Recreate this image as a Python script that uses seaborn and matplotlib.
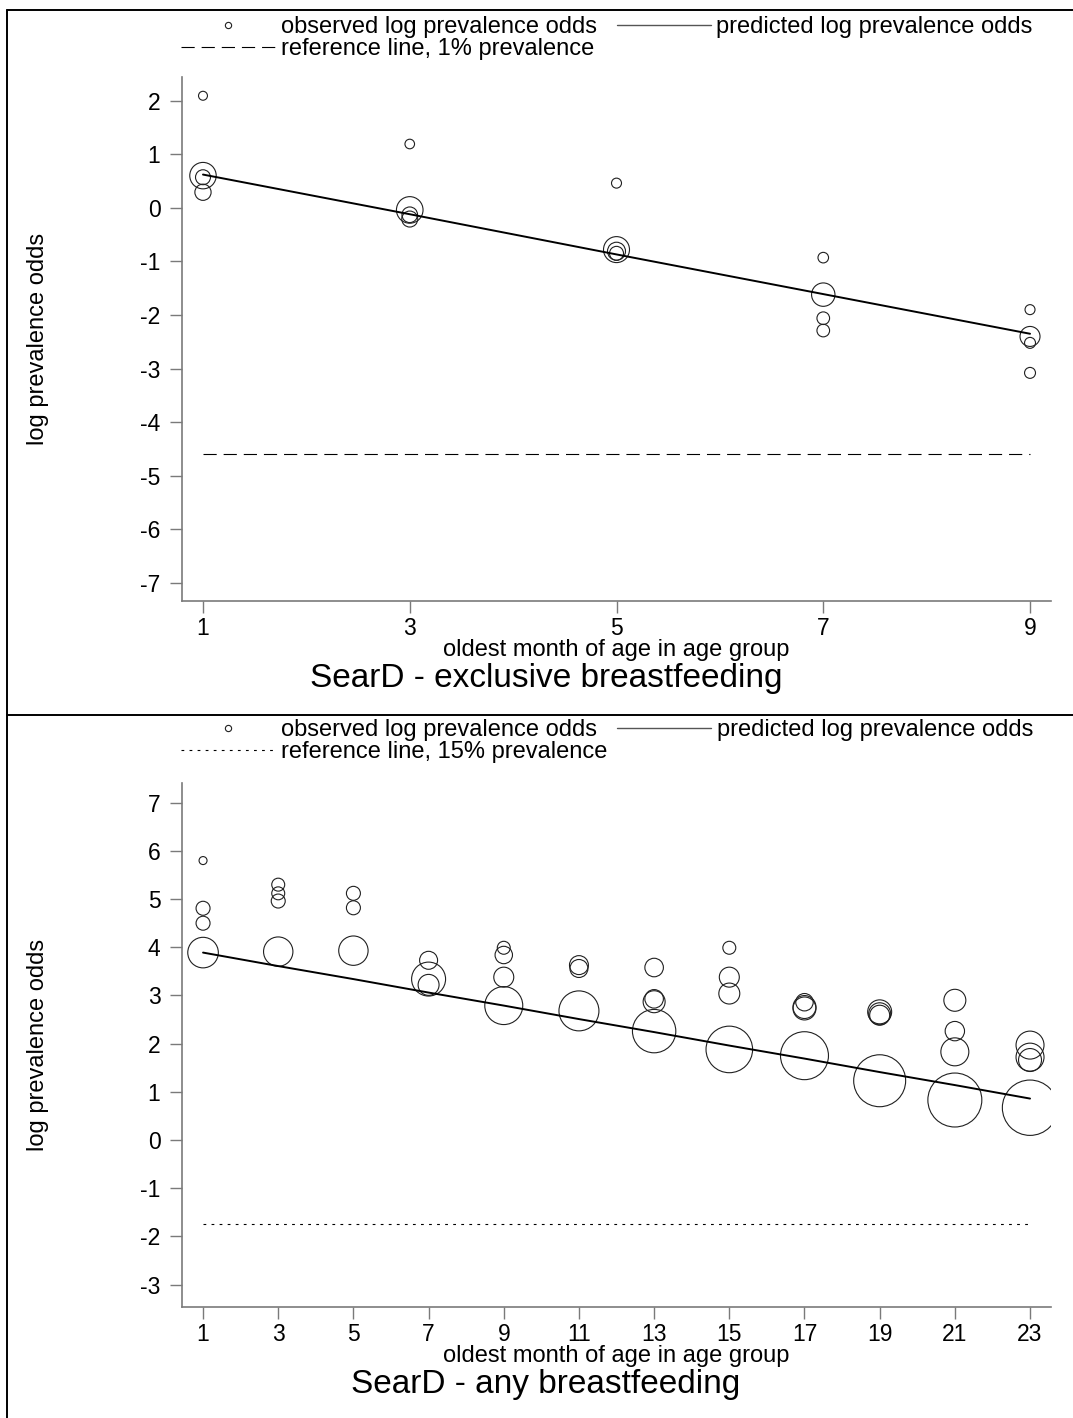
import numpy as np
import pandas as pd
import matplotlib
matplotlib.use("Agg")
import matplotlib.pyplot as plt
import seaborn as sns
from matplotlib.lines import Line2D

# ---------------- data: exclusive breastfeeding ----------------
ex_month = [1, 1, 1, 1, 3, 3, 3, 3, 5, 5, 5, 5, 7, 7, 7, 7, 9, 9, 9, 9]
ex_logodds = [2.09, 0.60, 0.57, 0.29,
              1.19, -0.04, -0.13, -0.21,
              0.46, -0.78, -0.81, -0.85,
              -0.93, -1.62, -2.06, -2.29,
              -1.90, -2.40, -2.52, -3.08]
ex_weight = [20, 175, 56, 66,
             23, 177, 61, 64,
             25, 169, 81, 49,
             28, 137, 40, 40,
             25, 100, 30, 30]
ex_pred_month = [1, 3, 5, 7, 9]
ex_pred = [0.62, -0.12, -0.87, -1.61, -2.35]
ex_ref = -4.595
ex_ref_label = "reference line, 1% prevalence"
ex_title = "SearD - exclusive breastfeeding"
ex_xticks = [1, 3, 5, 7, 9]
ex_yticks = [-7, -6, -5, -4, -3, -2, -1, 0, 1, 2]

# ---------------- data: any breastfeeding ----------------
any_month = [1, 1, 1, 1,
             3, 3, 3, 3,
             5, 5, 5,
             7, 7, 7,
             9, 9, 9, 9,
             11, 11, 11,
             13, 13, 13, 13,
             15, 15, 15, 15,
             17, 17, 17, 17,
             19, 19, 19, 19,
             21, 21, 21, 21,
             23, 23, 23, 23]
any_logodds = [5.80, 4.81, 4.50, 3.89,
               5.30, 5.12, 4.96, 3.91,
               5.12, 4.82, 3.93,
               3.73, 3.34, 3.22,
               3.99, 3.84, 3.38, 2.79,
               3.63, 3.56, 2.68,
               3.58, 2.93, 2.87, 2.26,
               3.99, 3.38, 3.04, 1.88,
               2.86, 2.76, 2.73, 1.75,
               2.66, 2.62, 2.59, 1.23,
               2.90, 2.26, 1.83, 0.83,
               1.97, 1.72, 1.66, 0.67]
any_weight = [16, 49, 49, 234,
              42, 42, 49, 216,
              49, 49, 216,
              81, 289, 110,
              42, 76, 100, 361,
              90, 81, 400,
              86, 86, 121, 471,
              42, 100, 110, 543,
              76, 132, 132, 576,
              144, 121, 100, 676,
              121, 94, 196, 729,
              196, 196, 132, 767]
any_pred_month = [1, 3, 5, 7, 9, 11, 13, 15, 17, 19, 21, 23]
any_pred = [3.89, 3.61, 3.34, 3.06, 2.79, 2.51, 2.24, 1.96, 1.69, 1.41, 1.14, 0.86]
any_ref = -1.735
any_ref_label = "reference line, 15% prevalence"
any_title = "SearD - any breastfeeding"
any_xticks = [1, 3, 5, 7, 9, 11, 13, 15, 17, 19, 21, 23]
any_yticks = [-3, -2, -1, 0, 1, 2, 3, 4, 5, 6, 7]

obs_label = "observed log prevalence odds"
pred_label = "predicted log prevalence odds"
ylabel = "log prevalence odds"
xlabel = "oldest month of age in age group"

# ---------------- style ----------------
sns.set_theme(style="white")
plt.rcParams['font.family'] = ['Liberation Sans', 'DejaVu Sans']
plt.rcParams['lines.scale_dashes'] = False
plt.rcParams['text.color'] = 'black'
plt.rcParams['axes.labelcolor'] = 'black'
plt.rcParams['xtick.color'] = 'black'
plt.rcParams['ytick.color'] = 'black'

W, H = 1073, 1418
fig = plt.figure(figsize=(W / 100, H / 100), dpi=100)
fig.patch.set_facecolor("white")

SPINE = "#7a7a7a"


def panel(ax, month, logodds, weight, pm, pv, ref, ref_label, ref_dash,
          xticks, yticks, xlim, ylim, title, title_y, legend_top, colspace):
    df = pd.DataFrame({"month": month, "logodds": logodds, "weight": weight})
    wmax = max(weight)
    sns.scatterplot(data=df, x="month", y="logodds", size="weight",
                    sizes=(0, 2.07 * wmax), size_norm=(0, wmax),
                    marker="o", facecolor="none", edgecolor="#202020",
                    linewidth=0.8, legend=False, ax=ax, zorder=3)
    sns.lineplot(x=pm, y=pv, color="black", linewidth=1.4, ax=ax,
                 legend=False, zorder=4)
    ref_df = pd.DataFrame({"month": [min(month), max(month)], "v": [ref, ref]})
    sns.lineplot(data=ref_df, x="month", y="v", color="black", linewidth=0.8,
                 dashes=False, ax=ax, legend=False)
    ax.lines[-1].set_linestyle((0, ref_dash))

    ax.set_xlim(*xlim)
    ax.set_ylim(*ylim)
    ax.set_xticks(xticks)
    ax.set_yticks(yticks)
    ax.set_xticklabels([str(t) for t in xticks])
    ax.set_yticklabels([str(t) for t in yticks])
    for s in ["top", "right"]:
        ax.spines[s].set_visible(False)
    for s in ["left", "bottom"]:
        ax.spines[s].set_color(SPINE)
        ax.spines[s].set_linewidth(1.2)
    ax.tick_params(axis="both", direction="out", length=8.5, width=1.0,
                   color=SPINE, labelsize=16.5, labelcolor="black")
    ax.tick_params(axis="y", pad=7, left=True)
    ax.tick_params(axis="x", pad=3, bottom=True)
    ax.set_xlabel(xlabel, fontsize=17, color="black")
    ax.set_ylabel(ylabel, fontsize=17, color="black")
    ax.xaxis.set_label_coords(0.5, -0.074)
    ax.yaxis.set_label_coords(-0.153, 0.5)
    ax.grid(False)

    handles = [
        Line2D([], [], marker="o", linestyle="none", markerfacecolor="none",
               markeredgecolor="#202020", markersize=4.5, markeredgewidth=0.8),
        Line2D([], [], color="black", linewidth=0.8, linestyle=(0, ref_dash)),
        Line2D([], [], color="#555555", linewidth=1.0),
    ]
    labels = [obs_label, ref_label, pred_label]
    leg = ax.legend(handles, labels, ncol=2, loc="upper left",
                    bbox_to_anchor=(181 / W, 1 - legend_top / H),
                    bbox_transform=fig.transFigure, frameon=False,
                    fontsize=17, handlelength=4.0, handletextpad=0.22,
                    columnspacing=colspace, labelspacing=0.02, borderpad=0,
                    borderaxespad=0)
    for t in leg.get_texts():
        t.set_color("black")
    fig.text(546 / W, 1 - title_y / H, title, ha="center", va="center",
             fontsize=24, color="black")


ax1 = fig.add_axes([182 / W, 1 - 600.7 / H, 868.7 / W, 523.7 / H])
ax2 = fig.add_axes([182 / W, 1 - 1306.7 / H, 868.7 / W, 523.7 / H])

panel(ax1, ex_month, ex_logodds, ex_weight, ex_pred_month, ex_pred, ex_ref,
      ex_ref_label, (9.5, 5.0), ex_xticks, ex_yticks, (0.797, 9.2),
      (-7.33, 2.44), ex_title, 679, 16, 0.85)
panel(ax2, any_month, any_logodds, any_weight, any_pred_month, any_pred,
      any_ref, any_ref_label, (2.0, 3.8), any_xticks, any_yticks,
      (0.44, 23.55), (-3.46, 7.41), any_title, 1384, 719, 0.42)

# panel frames
for seg in [([7, 7], [10, 1418]), ([7, 1073], [10, 10]), ([7, 1073], [715, 715])]:
    fig.add_artist(Line2D([x / W for x in seg[0]], [1 - y / H for y in seg[1]],
                          transform=fig.transFigure, color="black", linewidth=1.4))

fig.savefig("out.png", dpi=100, facecolor="white")
